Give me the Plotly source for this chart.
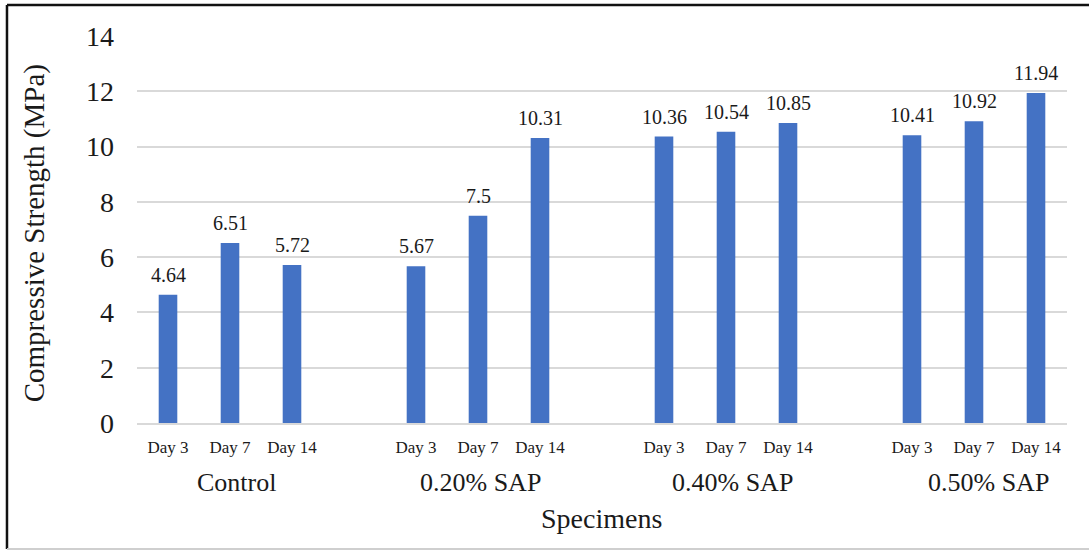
import plotly.graph_objects as go

# Compressive strength results by SAP dosage and curing age
groups = ["Control", "0.20% SAP", "0.40% SAP", "0.50% SAP"]
days = ["Day 3", "Day 7", "Day 14"]
strength = [
    [4.64, 6.51, 5.72],
    [5.67, 7.5, 10.31],
    [10.36, 10.54, 10.85],
    [10.41, 10.92, 11.94],
]
y_ticks = [0, 2, 4, 6, 8, 10, 12, 14]

FONT = "Liberation Serif, Times New Roman, serif"
BAR = "#4472C4"
GRID = "#D9D9D9"
INK = "#1a1a1a"

# One slot per bar, one empty slot between specimen groups
slot = len(days) + 1
xs, ys, ticks = [], [], []
for g, vals in enumerate(strength):
    for d, v in enumerate(vals):
        xs.append(g * slot + d)
        ys.append(v)
        ticks.append(days[d])

fig = go.Figure(
    go.Bar(
        x=xs,
        y=ys,
        width=0.3,
        marker=dict(color=BAR, line=dict(width=0)),
        hoverinfo="skip",
    )
)

# Value labels above each bar
for x, v in zip(xs, ys):
    fig.add_annotation(
        x=x, y=v, xref="x", yref="y", text=f"{v:g}", showarrow=False,
        yanchor="bottom", yshift=7,
        font=dict(family=FONT, size=20, color=INK),
    )

# Group captions below the day labels (small horizontal nudges per group)
nudges = [6, 2, 6, 14]
for g, name in enumerate(groups):
    fig.add_annotation(
        x=g * slot + 1, y=-0.155, xref="x", yref="paper",
        text=name, showarrow=False, xshift=nudges[g],
        font=dict(family=FONT, size=26, color=INK),
        xanchor="center", yanchor="middle",
    )

fig.add_annotation(
    x=0.499, y=-0.248, xref="paper", yref="paper",
    text="Specimens", showarrow=False,
    font=dict(family=FONT, size=28, color=INK),
    xanchor="center", yanchor="middle",
)
fig.add_annotation(
    x=-0.1108, y=0.49, xref="paper", yref="paper",
    text="Compressive Strength (MPa)", showarrow=False, textangle=-90,
    font=dict(family=FONT, size=29, color=INK),
    xanchor="center", yanchor="middle",
)

# Frame around the chart
fig.add_shape(type="line", xref="paper", yref="paper",
              x0=-0.1398, x1=1.03, y0=1.080, y1=1.080,
              line=dict(color="#111", width=2.5))
fig.add_shape(type="line", xref="paper", yref="paper",
              x0=-0.1398, x1=-0.1398, y0=1.080, y1=-0.3256,
              line=dict(color="#111", width=2.5))
fig.add_shape(type="line", xref="paper", yref="paper",
              x0=-0.1398, x1=1.03, y0=-0.3256, y1=-0.3256,
              line=dict(color="#cfcfcf", width=2))

fig.update_layout(
    width=1089,
    height=551,
    margin=dict(l=137, r=22, t=36, b=128),
    paper_bgcolor="white",
    plot_bgcolor="white",
    showlegend=False,
    font=dict(family=FONT, color=INK),
    xaxis=dict(
        range=[-0.5, len(groups) * slot - 1.5],
        tickmode="array",
        tickvals=xs,
        ticktext=ticks,
        tickfont=dict(family=FONT, size=17, color=INK),
        ticks="",
        ticklabelstandoff=8,
        showgrid=False,
        zeroline=False,
        showline=True,
        linecolor=GRID,
        linewidth=2,
        fixedrange=True,
    ),
    yaxis=dict(
        range=[0, 14],
        tickmode="array",
        tickvals=y_ticks,
        tickfont=dict(family=FONT, size=28, color=INK),
        ticks="",
        ticklabelstandoff=22,
        showgrid=True,
        gridcolor=GRID,
        gridwidth=1.5,
        zeroline=False,
        showline=False,
        fixedrange=True,
    ),
)

fig.write_html("out.html")
